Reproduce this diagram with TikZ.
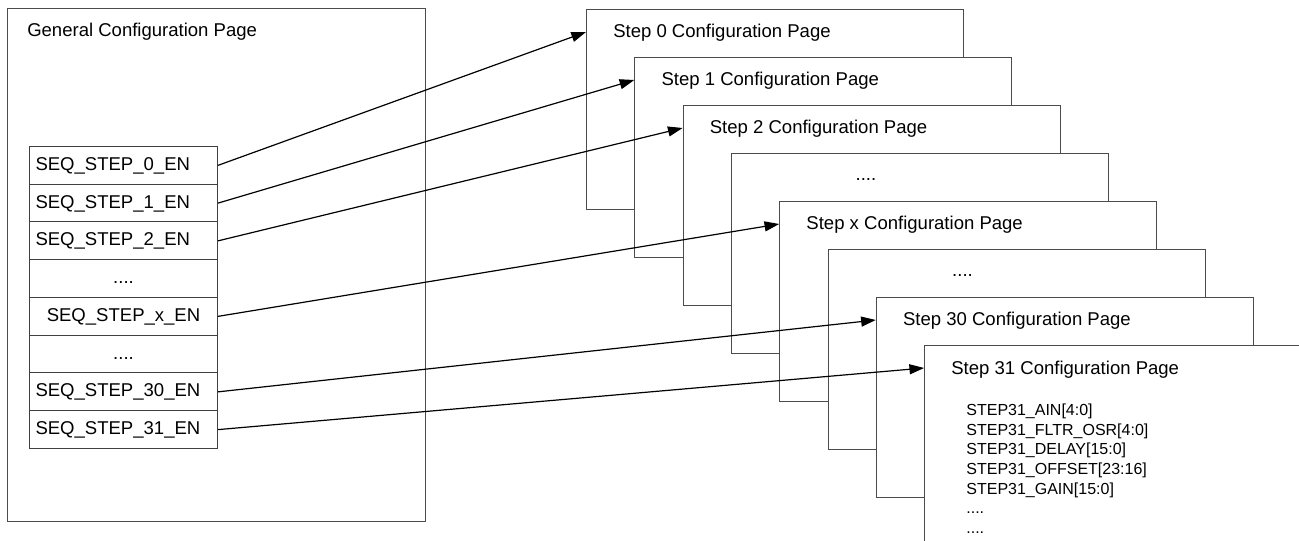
\documentclass[tikz,border=0pt]{standalone}
\usepackage{fontspec}
\setmainfont{Liberation Sans}
\usetikzlibrary{arrows.meta, positioning}

\newcommand{\fourdots}{....}

\tikzset{
  txt/.style={font=\fontsize{13.9pt}{16pt}\selectfont},
  smalltxt/.style={font=\fontsize{12pt}{14pt}\selectfont},
  pagebox/.style={draw=black!70, fill=white, line width=0.75pt, inner sep=0pt,
    anchor=north west, minimum width=282.75pt, minimum height=150pt},
  rowbox/.style={draw=black!75, line width=0.75pt, txt, inner ysep=0pt, inner xsep=4.5pt,
    text width=132pt, minimum height=28.3pt, text height=10pt, text depth=2.5pt, anchor=north west},
  arr/.style={-{Triangle[length=11pt, width=7.5pt]}, line width=0.9pt, black}
}

\begin{document}
\begin{tikzpicture}[x=0.75pt, y=-0.75pt]
  \useasboundingbox (0,0) rectangle (1299,541);
  \clip (0,0) rectangle (1299,541);
  % General page with enable bits
  \node[pagebox, minimum width=313.5pt, minimum height=384.75pt] (gen) at (7,8) {};
  \node[txt, anchor=base west, inner sep=0pt] (gentitle) at ([xshift=15pt, yshift=-21.5pt]gen.north west) {General Configuration Page};
  \foreach \k/\lbl/\al in {0/SEQ\_STEP\_0\_EN/left, 1/SEQ\_STEP\_1\_EN/left, 2/SEQ\_STEP\_2\_EN/left,
      3/\fourdots/center, 4/SEQ\_STEP\_x\_EN/center, 5/\fourdots/center, 6/SEQ\_STEP\_30\_EN/left, 7/SEQ\_STEP\_31\_EN/left} {
    \node[rowbox, align=\al] (r\k) at (29, 146+37.75*\k) {\lbl};
  }
  % Stack of step pages
  \foreach \i in {0,...,7} {
    \node[pagebox] (p\i) at (586+48.3*\i, 9+48*\i) {};
    \coordinate (in\i) at ([yshift=-17.25pt]p\i.north west);
  }
  \foreach \i/\ttl in {0/Step 0, 1/Step 1, 2/Step 2, 4/Step x, 6/Step 30, 7/Step 31} {
    \node[txt, anchor=base west, inner sep=0pt] (t\i) at ([xshift=20.25pt, yshift=-21.75pt]p\i.north west) {\ttl\ Configuration Page};
  }
  \node[txt, anchor=base, inner sep=0pt] (d3) at ([xshift=101.25pt, yshift=-21pt]p3.north west) {\fourdots};
  \node[txt, anchor=base, inner sep=0pt] (d5) at ([xshift=101.25pt, yshift=-21pt]p5.north west) {\fourdots};
  % Step 31 fields
  \foreach \n/\fld in {0/STEP31\_AIN[4:0], 1/STEP31\_FLTR\_OSR[4:0], 2/STEP31\_DELAY[15:0],
      3/STEP31\_OFFSET[23:16], 4/STEP31\_GAIN[15:0], 5/\fourdots, 6/\fourdots} {
    \node[smalltxt, anchor=base west, inner sep=0pt] (f\n) at ([xshift=31.5pt, yshift=-53.25pt-14.625pt*\n]p7.north west) {\fld};
  }
  % Enable bit -> page
  \foreach \k in {0,1,2,4,6,7} {
    \draw[arr] (r\k.east) -- (in\k);
  }
\end{tikzpicture}
\end{document}
